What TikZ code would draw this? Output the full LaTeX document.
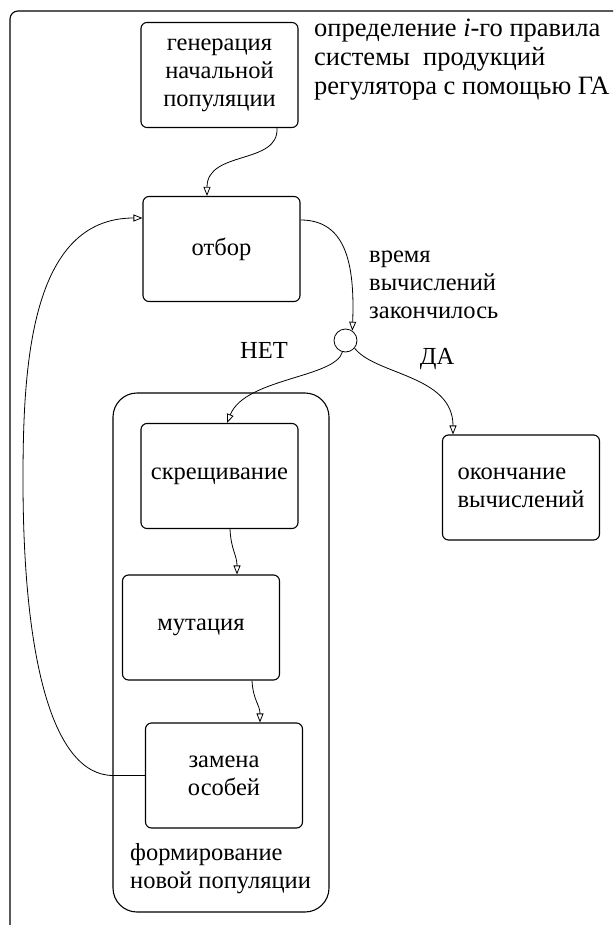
\documentclass[tikz,border=0pt]{standalone}
\usepackage{fontspec}
\setmainfont{LiberationSerif}[Extension=.ttf,UprightFont=*-Regular,ItalicFont=*-Italic,BoldFont=*-Bold,BoldItalicFont=*-BoldItalic]
\usetikzlibrary{arrows.meta,calc}
\begin{document}
\begin{tikzpicture}[x=1pt,y=1pt,
  box/.style={draw,line width=1.1pt,rounded corners=6pt,minimum width=157pt,minimum height=105pt,align=center,inner sep=0pt},
  grp/.style={draw,line width=1.1pt,rounded corners=24pt,minimum width=216pt,minimum height=519pt,inner sep=0pt},
  lbl/.style={align=left,inner sep=0pt,anchor=north west},
  conn/.style={line width=0.8pt,-{Triangle[open,length=9pt,width=7pt]}},
  txt/.style={font=\fontsize{24.5}{28}\selectfont},
  big/.style={font=\fontsize{26.5}{29}\selectfont}
]
\useasboundingbox (0,0) rectangle (613,-925);
\draw[line width=1.1pt,rounded corners=8pt] (10,-925) -- (10,-11) -- (613,-11);

\node[box,txt] (gen) at (219.5,-75) {генерация\\начальной\\популяции};
\node[box,txt] (otb) at (221.5,-249) {отбор};
\node[grp] (grp) at (221,-652.5) {};
\node[box,txt] (skr) at (219.5,-476) {скрещивание};
\node[box,txt] (mut) at (201,-627.5) {мутация};
\node[box,txt] (zam) at (224,-775.5) {замена\\особей};
\node[box,txt] (oko) at (521,-487.5) {\begin{tabular}{@{}l@{}}окончание\\вычислений\end{tabular}};
\node[draw,circle,line width=0.8pt,minimum size=23pt,inner sep=0pt] (dec) at (345.5,-340.5) {};

\node[lbl,big] (title) at (314,-19) {определение \textit{i}-го правила\\системы\ \ продукций\\регулятора с помощью ГА};
\node[lbl,txt] (time) at (369,-251) {время\\вычислений\\закончилось};
\node[txt,inner sep=0pt] (net) at (264,-350) {НЕТ};
\node[txt,inner sep=0pt] (da) at (437,-359) {ДА};
\node[lbl,txt] (form) at (130,-843) {формирование\\новой популяции};

\coordinate (g1) at ([xshift=57.5pt]gen.south);
\coordinate (o1) at ([xshift=-14.5pt]otb.north);
\draw[conn] (g1) .. controls (279,-165) and (207,-150) .. (o1);

\coordinate (o2) at ([yshift=29pt]otb.east);
\draw[conn] (o2) .. controls (345,-220) and (355,-262) .. (dec.55);

\coordinate (s1) at ([xshift=7.5pt]skr.north);
\draw[conn] (dec.-105) .. controls (335,-378) and (245,-378) .. (s1);

\coordinate (k1) at ([xshift=-68pt]oko.north);
\draw[conn] (dec.-40) .. controls (375,-375) and (453,-375) .. (k1);

\coordinate (s2) at ([xshift=10.5pt]skr.south);
\coordinate (m1) at ([xshift=36pt]mut.north);
\draw[conn] (s2) .. controls (231,-550) and (237,-555) .. (m1);

\coordinate (m2) at ([xshift=51pt]mut.south);
\coordinate (z1) at ([xshift=36pt]zam.north);
\draw[conn] (m2) .. controls (253,-700) and (260,-705) .. (z1);

\coordinate (o3) at ([yshift=31pt]otb.west);
\draw[conn] (zam.west) -- (113,-775.5) .. controls (50,-775) and (23,-650) .. (23,-480) .. controls (23,-367) and (30,-218) .. (o3);
\end{tikzpicture}
\end{document}
